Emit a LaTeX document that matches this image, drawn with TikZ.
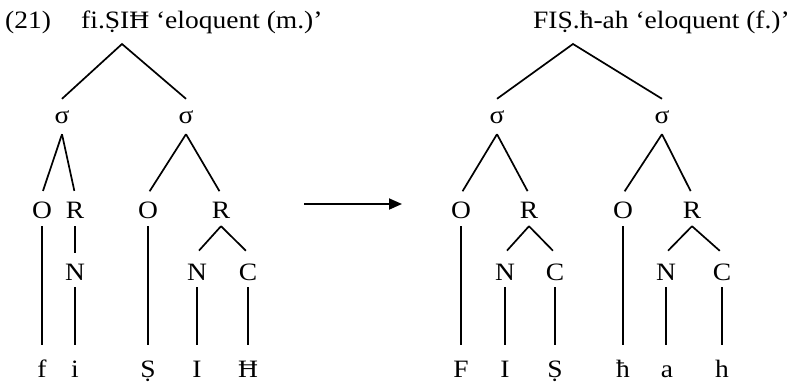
\documentclass[tikz,border=0pt]{standalone}
\usepackage{fontspec}
\setmainfont{Liberation Serif}[FakeStretch=1.1]
\usetikzlibrary{arrows.meta}
\tikzset{
  lab/.style={anchor=base, inner sep=0pt, font=\fontsize{25}{29}\selectfont},
  sig/.style={lab, text height=24pt, text depth=11pt},
  mid/.style={lab, text height=24pt, text depth=8pt},
  nuc/.style={lab, text height=27pt, text depth=7pt},
  seg/.style={lab, text height=32pt, text depth=5pt},
  ttl/.style={anchor=base west, inner sep=0pt, font=\fontsize{25}{29}\selectfont},
  br/.style={line width=1.7pt},
  diag/.style={br, shorten >=3pt},
  arr/.style={line width=1.8pt, -{Triangle[length=13pt,width=11pt]}}
}
\begin{document}
\begin{tikzpicture}[x=1pt,y=-1pt]
\useasboundingbox (0,0) rectangle (793,383);
% titles
\node[ttl] (num) at (5,28) {(21)};
\node[ttl] (t1) at (81,28) {fi.ṢIĦ ‘eloquent (m.)’};
\node[ttl] (t2) at (533,28) {FIṢ.ħ-ah ‘eloquent (f.)’};
% left tree
\coordinate (rootL) at (122,44);
\node[sig] (s1) at (62,123) {σ};
\node[sig] (s2) at (186,123) {σ};
\node[mid] (o1) at (42,218) {O};
\node[mid] (r1) at (75,218) {R};
\node[mid] (o2) at (148,218) {O};
\node[mid] (r2) at (221,218) {R};
\node[nuc] (n1) at (75,280) {N};
\node[nuc] (n2) at (197,280) {N};
\node[nuc] (c2) at (248,280) {C};
\node[seg] (f) at (42,377) {f};
\node[seg] (i) at (75,377) {i};
\node[seg] (S) at (148,377) {Ṣ};
\node[seg] (I) at (197,377) {I};
\node[seg] (H) at (248,377) {Ħ};
\draw[br] (s1.north) -- (rootL) -- (s2.north);
\draw[diag] (s1.south) -- (o1.north);
\draw[diag] (s1.south) -- (r1.north);
\draw[diag] (s2.south) -- (o2.north);
\draw[diag] (s2.south) -- (r2.north);
\draw[br] (o1.south) -- (f.north);
\draw[br] (r1.south) -- (n1.north);
\draw[br] (n1.south) -- (i.north);
\draw[br] (o2.south) -- (S.north);
\draw[diag] (r2.south) -- (n2.north);
\draw[diag] (r2.south) -- (c2.north);
\draw[br] (n2.south) -- (I.north);
\draw[br] (c2.south) -- (H.north);
% arrow
\coordinate (a0) at (304,204);
\coordinate (a1) at (402,204);
\draw[arr] (a0) -- (a1);
% right tree
\coordinate (rootR) at (573,44);
\node[sig] (s3) at (497,123) {σ};
\node[sig] (s4) at (662,123) {σ};
\node[mid] (o3) at (461,218) {O};
\node[mid] (r3) at (529,218) {R};
\node[mid] (o4) at (623,218) {O};
\node[mid] (r4) at (692,218) {R};
\node[nuc] (n3) at (505,280) {N};
\node[nuc] (c3) at (555,280) {C};
\node[nuc] (n4) at (666,280) {N};
\node[nuc] (c4) at (722,280) {C};
\node[seg] (F) at (461,377) {F};
\node[seg] (I2) at (505,377) {I};
\node[seg] (S2) at (555,377) {Ṣ};
\node[seg] (hb) at (623,377) {ħ};
\node[seg] (a) at (667,377) {a};
\node[seg] (h) at (722,377) {h};
\draw[br] (s3.north) -- (rootR) -- (s4.north);
\draw[diag] (s3.south) -- (o3.north);
\draw[diag] (s3.south) -- (r3.north);
\draw[diag] (s4.south) -- (o4.north);
\draw[diag] (s4.south) -- (r4.north);
\draw[br] (o3.south) -- (F.north);
\draw[diag] (r3.south) -- (n3.north);
\draw[diag] (r3.south) -- (c3.north);
\draw[br] (n3.south) -- (I2.north);
\draw[br] (c3.south) -- (S2.north);
\draw[br] (o4.south) -- (hb.north);
\draw[diag] (r4.south) -- (n4.north);
\draw[diag] (r4.south) -- (c4.north);
\draw[br] (n4.south) -- ([xshift=-1pt]a.north);
\draw[br] (c4.south) -- (h.north);
\end{tikzpicture}
\end{document}
